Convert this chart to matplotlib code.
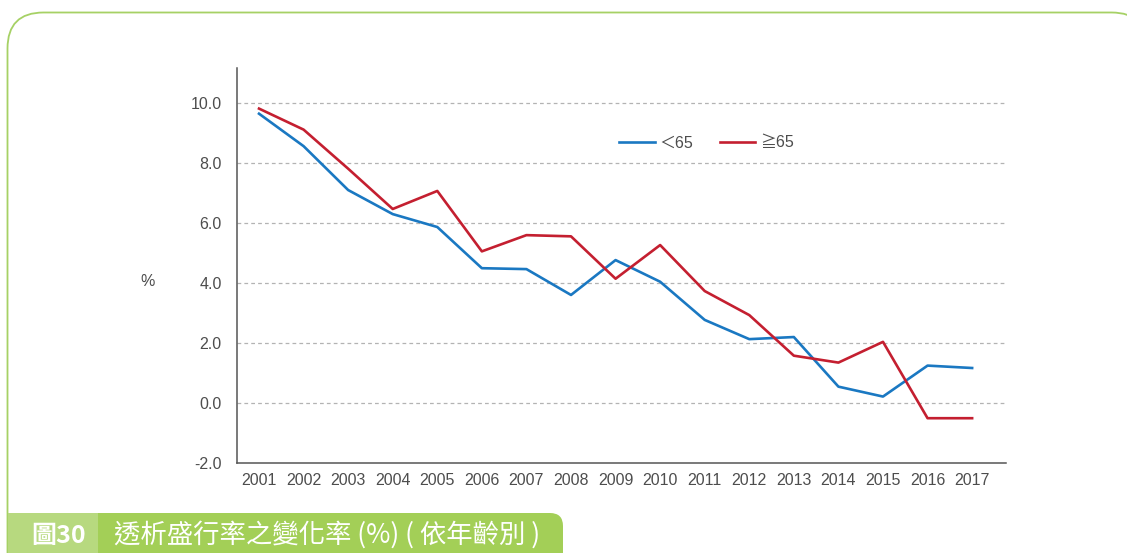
import matplotlib
matplotlib.use("Agg")
import matplotlib.pyplot as plt
from matplotlib.patches import FancyBboxPatch, Rectangle

years = list(range(2001, 2018))
under_65 = [9.63, 8.55, 7.09, 6.29, 5.86, 4.49, 4.46, 3.60, 4.76, 4.04,
            2.77, 2.13, 2.20, 0.55, 0.22, 1.25, 1.17]
over_65 = [9.80, 9.10, 7.80, 6.46, 7.06, 5.05, 5.59, 5.55, 4.14, 5.26,
           3.73, 2.93, 1.58, 1.35, 2.04, -0.50, -0.50]
yticks = [-2.0, 0.0, 2.0, 4.0, 6.0, 8.0, 10.0]
series_labels = ["＜65", "≧65"]
title_num = "圖30"
title_text = "透析盛行率之變化率 (%) ( 依年齡別 )"

BLUE = "#1a78c2"
RED = "#c41f30"
TXT = "#4d4d4d"
FONT = ["Liberation Sans", "Noto Sans CJK TC", "DejaVu Sans"]
CJK = ["Noto Sans CJK TC", "DejaVu Sans"]

W, H = 1127, 553
fig = plt.figure(figsize=(W / 100, H / 100), dpi=100)

# background axes in pixel coords for the frame and banner
bg = fig.add_axes([0, 0, 1, 1])
bg.set_xlim(0, W)
bg.set_ylim(H, 0)
bg.axis("off")
bg.add_patch(FancyBboxPatch((7.5, 12.5), 1140, 700,
                            boxstyle="round,pad=0,rounding_size=36",
                            fc="white", ec="#a6d165", lw=1.3))
bg.add_patch(FancyBboxPatch((60, 513), 503, 120,
                            boxstyle="round,pad=0,rounding_size=13",
                            fc="#a3cf57", ec="none"))
bg.add_patch(Rectangle((8, 513), 90, 45, fc="#b7d97f", ec="none"))
bg.text(59, 536, title_num, color="white", fontsize=18, fontweight="bold",
        ha="center", va="center", family=CJK)
bg.text(114, 535, title_text, color="white", fontsize=19,
        ha="left", va="center", family=CJK)

ax = fig.add_axes([237 / W, 1 - 463.3 / H, (1006 - 237) / W, (463.3 - 68.3) / H])
ax.patch.set_alpha(0)
ax.plot(years, under_65, color=BLUE, lw=1.9, label=series_labels[0], zorder=3)
ax.plot(years, over_65, color=RED, lw=1.9, label=series_labels[1], zorder=3)

ax.set_xlim(2000.506, 2017.76)
ax.set_ylim(-2, 11.14)
ax.set_xticks(years)
ax.set_xticklabels([str(y) for y in years], fontsize=11.5, color=TXT, family=FONT)
ax.set_yticks(yticks)
ax.set_yticklabels([f"{v:.1f}" for v in yticks], fontsize=11.5, color=TXT, family=FONT)
ax.tick_params(axis="both", length=0)
ax.tick_params(axis="x", pad=7)
ax.tick_params(axis="y", pad=11)

for v in yticks[1:]:
    ax.axhline(v, color="#b3b3b3", lw=0.9, ls=(0, (3, 2.5)), zorder=1)

for s in ["top", "right"]:
    ax.spines[s].set_visible(False)
for s in ["left", "bottom"]:
    ax.spines[s].set_color("#555555")
    ax.spines[s].set_linewidth(1.1)

fig.text(148 / W, 1 - 281 / H, "%", fontsize=11.5, color=TXT, ha="center",
         va="center", family=FONT)

leg = ax.legend(loc="upper left", bbox_to_anchor=((605 - 237) / (1006 - 237), (463.3 - 121) / (463.3 - 68.3)),
                ncol=2, frameon=False, handlelength=2.2, handletextpad=0.3,
                columnspacing=1.7, prop={"family": FONT, "size": 11.5})
for t in leg.get_texts():
    t.set_color(TXT)

fig.savefig("out.png", dpi=100)
